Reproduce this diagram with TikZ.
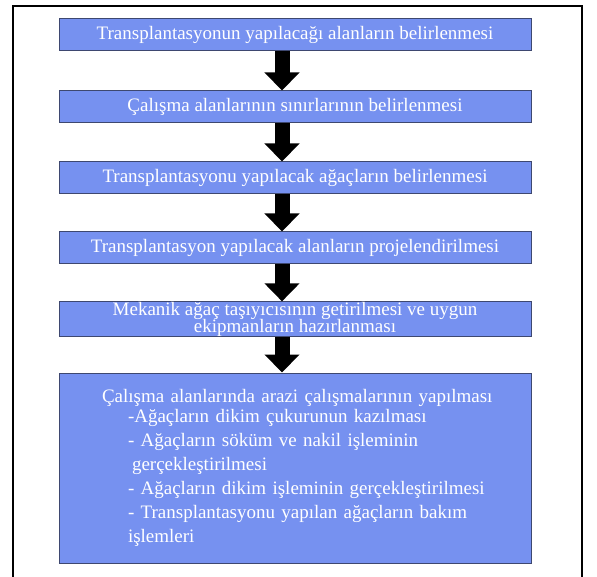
\documentclass[tikz,border=0pt]{standalone}
\usepackage{fontspec}
\setmainfont{Liberation Serif}
\newcommand{\StepFont}{\fontsize{19}{17}\selectfont\lineskiplimit=-50pt\relax}
\newcommand{\LastFont}{\fontsize{19}{24}\selectfont}
\usetikzlibrary{math}
\usetikzlibrary{arrows.meta}
\definecolor{StepFill}{RGB}{118,145,240}
\definecolor{StepEdge}{RGB}{62,72,112}

\begin{document}
\begin{tikzpicture}[x=1pt,y=-1pt]

% Position settings
\tikzmath{
    \BoxWidth = 472;
    \BoxHeight = 32;
    \BoxX = 295;
    \ArrowShift = -13;
}

\useasboundingbox (0,0) rectangle (597,577);

% Draws frame
\coordinate (F0) at (13,595);
\coordinate (F1) at (13,6);
\coordinate (F2) at (582,6);
\coordinate (F3) at (582,595);
\draw [black, line width=1.8pt] (F0) -- (F1) -- (F2) -- (F3);

\begin{scope}[every node/.style={draw=StepEdge, line width=1pt, fill=StepFill,
    text=white, font=\StepFont, inner sep=0pt, align=center,
    minimum width=\BoxWidth*1pt, minimum height=\BoxHeight*1pt}]

    % Steps
    \node (S1) at (\BoxX, 35) {Transplantasyonun yapılacağı alanların belirlenmesi};
    \node (S2) at (\BoxX, 107) {Çalışma alanlarının sınırlarının belirlenmesi};
    \node (S3) at (\BoxX, 178) {Transplantasyonu yapılacak ağaçların belirlenmesi};
    \node (S4) at (\BoxX, 248) {Transplantasyon yapılacak alanların projelendirilmesi};
    \node (S5) at (\BoxX, 319) {Mekanik ağaç taşıyıcısının getirilmesi ve uygun\\ekipmanların hazırlanması};

    % Last step
    \node [text width=\BoxWidth*1pt, minimum height=190pt, align=left,
        font=\LastFont] (S6) at (\BoxX, 468)
        {\hspace*{43pt}Çalışma alanlarında arazi çalışmalarının yapılması\\[-4pt]
         \hspace*{69pt}-Ağaçların dikim çukurunun kazılması\\
         \hspace*{69pt}- Ağaçların söküm ve nakil işleminin\\
         \hspace*{73pt}gerçekleştirilmesi\\
         \hspace*{69pt}- Ağaçların dikim işleminin gerçekleştirilmesi\\
         \hspace*{69pt}- Transplantasyonu yapılan ağaçların bakım\\
         \hspace*{69pt}işlemleri};
\end{scope}

\begin{scope}[black, line width=15pt, -{Triangle[width=34pt,length=18pt]}]
    % Draws arrows
    \draw ([xshift=\ArrowShift*1pt]S1.south) -- ([xshift=\ArrowShift*1pt]S2.north);
    \draw ([xshift=\ArrowShift*1pt]S2.south) -- ([xshift=\ArrowShift*1pt]S3.north);
    \draw ([xshift=\ArrowShift*1pt]S3.south) -- ([xshift=\ArrowShift*1pt]S4.north);
    \draw ([xshift=\ArrowShift*1pt]S4.south) -- ([xshift=\ArrowShift*1pt]S5.north);
    \draw ([xshift=\ArrowShift*1pt]S5.south) -- ([xshift=\ArrowShift*1pt]S6.north);
\end{scope}

\end{tikzpicture}
\end{document}
